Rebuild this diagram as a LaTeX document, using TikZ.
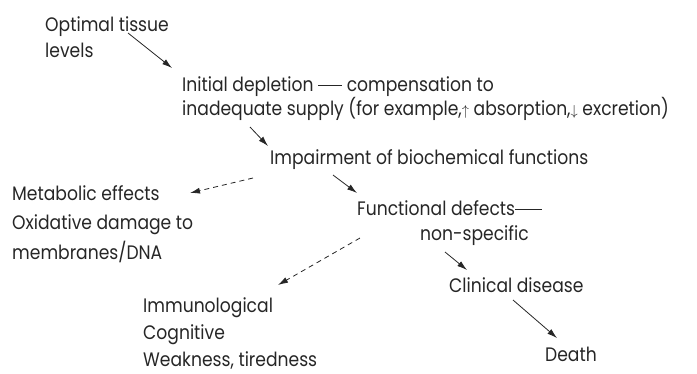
\documentclass[tikz,border=0pt]{standalone}
\usepackage{fontspec}
\setmainfont[FakeStretch=0.88]{Poppins}
\usetikzlibrary{arrows.meta}

\newcommand{\smallarrow}[1]{{\fontsize{15}{15}\selectfont$#1$}}

\begin{document}
\begin{tikzpicture}[x=1pt,y=-1pt,
  every node/.style={inner sep=0pt, align=left, text=black!85,
    font=\fontsize{19.5}{27}\selectfont},
  arr/.style={-{Latex[length=10pt,width=6pt]}, line width=0.8pt, black!85},
  darr/.style={arr, dash pattern=on 5pt off 4pt}]
  \useasboundingbox (0,0) rectangle (697,373);

  % base west = baseline of the last line
  \node[anchor=base west] (optimal) at (45,57) {Optimal tissue\\[-1pt]levels};
  \node[anchor=base west] (initial) at (182,115)
    {Initial depletion \rule[5pt]{24pt}{0.8pt} compensation to\\[-3pt]
     inadequate supply (for example,\smallarrow{\uparrow} absorption,\smallarrow{\downarrow} excretion)};
  \node[anchor=base west] (impair) at (270,164) {Impairment of biochemical functions};
  \node[anchor=base west] (metabolic) at (12,259)
    {Metabolic effects\\[2pt]Oxidative damage to\\[3pt]membranes/DNA};
  \node[anchor=base west] (functional) at (357,215)
    {Functional defects\rule[5pt]{27pt}{0.8pt}};
  \node[anchor=base west] (nonspec) at (420,240) {non-specific};
  \node[anchor=base west] (clinical) at (449,292) {Clinical disease};
  \node[anchor=base west] (death) at (545,361) {Death};
  \node[anchor=base west] (immuno) at (143,366)
    {Immunological\\Cognitive\\Weakness, tiredness};

  \draw[arr] ([shift={(83,-24)}]optimal.base west) -- ([shift={(-10,-47)}]initial.base west);
  \draw[arr] ([shift={(68,12)}]initial.base west) -- ([shift={(-2,-18)}]impair.base west);
  \draw[darr] ([shift={(-17,14)}]impair.base west) -- ([shift={(178,-66)}]metabolic.base west);
  \draw[arr] ([shift={(63,11)}]impair.base west) -- ([shift={(0,-22)}]functional.base west);
  \draw[darr] ([shift={(3,23)}]functional.base west) -- ([shift={(135,-81)}]immuno.base west);
  \draw[arr] ([shift={(25,12)}]nonspec.base west) -- ([shift={(18,-22)}]clinical.base west);
  \draw[arr] ([shift={(64,8)}]clinical.base west) -- ([shift={(12,-23)}]death.base west);
\end{tikzpicture}
\end{document}
